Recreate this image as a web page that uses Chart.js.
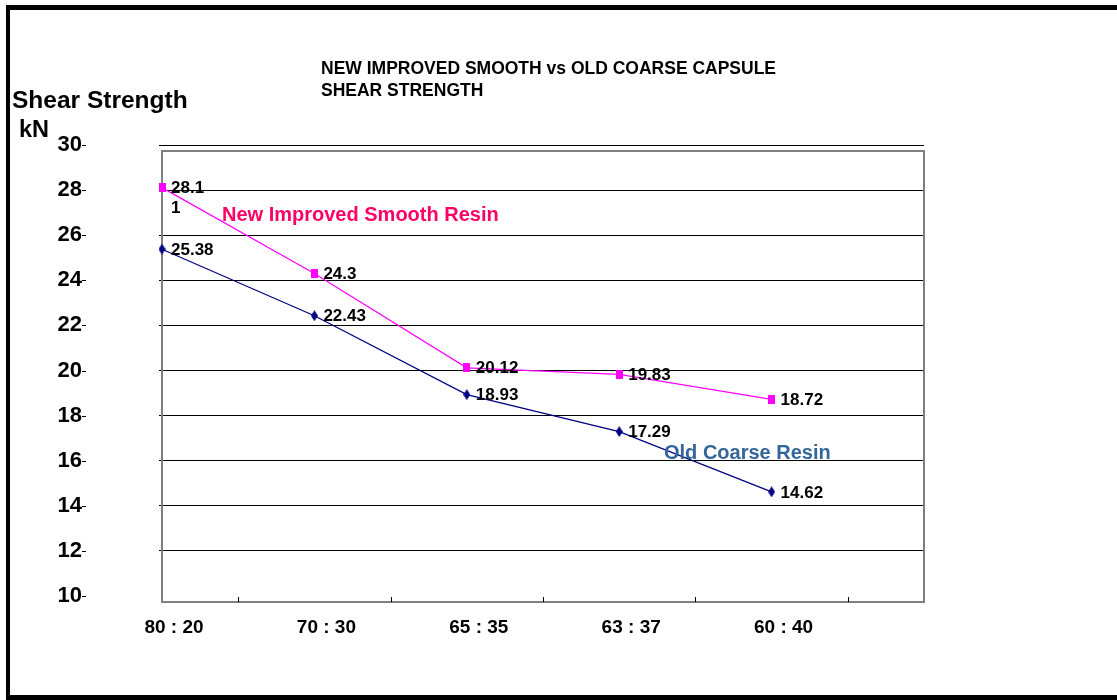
<!DOCTYPE html>
<html>
<head>
<meta charset="utf-8">
<title>Shear Strength</title>
<script src="https://cdn.jsdelivr.net/npm/chart.js@4.4.1/dist/chart.umd.min.js"></script>
<style>
    body { margin: 0; background: #fff; overflow: hidden; }
    #wrap { width: 1117px; height: 700px; }
</style>
</head>
<body>
<div id="wrap"><canvas id="shearChart" width="1117" height="700"></canvas></div>
<script>
// data
const ratios = ['80 : 20', '70 : 30', '65 : 35', '63 : 37', '60 : 40'];
const newSmooth = [28.11, 24.3, 20.12, 19.83, 18.72];
const oldCoarse = [25.38, 22.43, 18.93, 17.29, 14.62];
const yTicks = [10, 12, 14, 16, 18, 20, 22, 24, 26, 28, 30];
const titleLines = ['NEW IMPROVED SMOOTH vs OLD COARSE CAPSULE', 'SHEAR STRENGTH'];

const FONT = '"Liberation Sans", Arial, sans-serif';

// points sit on category index 0..4, axis runs on to 5
function toPoints(values) {
    return values.map(function(v, i) { return { x: i, y: v }; });
}

// little marker images (square for new resin, tall diamond for old)
function makeMarker(kind, color) {
    const c = document.createElement('canvas');
    // size first - resizing a canvas resets its context state
    c.width = 7;
    c.height = kind === 'square' ? 9 : 11;
    const g = c.getContext('2d');
    g.fillStyle = color;
    if (kind === 'square') {
        g.fillRect(0, 0, 7, 9);
    } else {
        g.beginPath();
        g.moveTo(3.5, 0); g.lineTo(7, 5.5); g.lineTo(3.5, 11); g.lineTo(0, 5.5);
        g.closePath();
        g.fill();
    }
    return c;
}

const decorPlugin = {
    id: 'decor',
    beforeDraw(chart) {
        const ctx = chart.ctx;
        ctx.save();
        ctx.fillStyle = '#fff';
        ctx.fillRect(0, 0, chart.width, chart.height);
        // outer black frame (right side runs off the picture)
        ctx.fillStyle = '#000';
        ctx.fillRect(6, 5, chart.width, 5);
        ctx.fillRect(6, 5, 4, 695);
        ctx.fillRect(6, 695, chart.width, 5);
        ctx.restore();
    },
    beforeDatasetsDraw(chart) {
        const ctx = chart.ctx;
        const area = chart.chartArea;
        const xs = chart.scales.x;
        ctx.save();
        // plot frame (sits a few px lower than the gridlines, like the original)
        ctx.strokeStyle = '#808080';
        ctx.lineWidth = 2;
        ctx.strokeRect(area.left, area.top + 6, area.right - area.left, area.bottom - area.top);

        // x tick marks between categories
        ctx.strokeStyle = '#000';
        ctx.lineWidth = 1;
        for (let i = 0; i < ratios.length; i++) {
            const px = Math.round(xs.getPixelForValue(i + 0.5)) + 0.5;
            ctx.beginPath();
            ctx.moveTo(px, area.bottom + 6);
            ctx.lineTo(px, area.bottom + 1);
            ctx.stroke();
        }
        ctx.restore();
    },
    afterDatasetsDraw(chart) {
        const ctx = chart.ctx;
        const ys = chart.scales.y;
        ctx.save();

        // small dashes after the y labels
        ctx.strokeStyle = '#000';
        ctx.lineWidth = 1;
        yTicks.forEach(function(v) {
            const py = Math.round(ys.getPixelForValue(v)) + 0.5;
            ctx.beginPath();
            ctx.moveTo(82, py);
            ctx.lineTo(86, py);
            ctx.stroke();
        });

        // value labels
        ctx.fillStyle = '#000';
        ctx.font = 'bold 17px ' + FONT;
        ctx.textAlign = 'left';
        ctx.textBaseline = 'middle';
        chart.data.datasets.forEach(function(ds, di) {
            const meta = chart.getDatasetMeta(di);
            meta.data.forEach(function(pt, j) {
                const txt = String(ds.data[j].y);
                if (ds.wrapFirst && j === 0) {
                    ctx.fillText(txt.slice(0, 4), pt.x + 9, pt.y + 1);
                    ctx.fillText(txt.slice(4), pt.x + 9, pt.y + 21);
                } else {
                    ctx.fillText(txt, pt.x + 9, pt.y + 1);
                }
            });
        });

        // title
        ctx.font = 'bold 17.5px ' + FONT;
        ctx.fillText(titleLines[0], 321, 69);
        ctx.fillText(titleLines[1], 321, 91);

        // y axis name
        ctx.font = 'bold 24.5px ' + FONT;
        ctx.fillText('Shear Strength', 12, 101);
        ctx.font = 'bold 23.5px ' + FONT;
        ctx.fillText('kN', 19, 131);

        // series names
        ctx.font = 'bold 20px ' + FONT;
        ctx.fillStyle = '#ff0066';
        ctx.fillText('New Improved Smooth Resin', 222, 215);
        ctx.fillStyle = '#336699';
        ctx.fillText('Old Coarse Resin', 664, 453);

        ctx.restore();
    }
};

const ctx = document.getElementById('shearChart').getContext('2d');

new Chart(ctx, {
    type: 'line',
    data: {
        datasets: [{
            label: 'New Improved Smooth Resin',
            data: toPoints(newSmooth),
            wrapFirst: true,
            clip: false,
            borderColor: '#ff00ff',
            borderWidth: 1.2,
            pointStyle: makeMarker('square', '#ff00ff'),
            tension: 0
        }, {
            label: 'Old Coarse Resin',
            data: toPoints(oldCoarse),
            clip: false,
            borderColor: '#000080',
            borderWidth: 1.2,
            pointStyle: makeMarker('diamond', '#000080'),
            tension: 0
        }]
    },
    options: {
        responsive: false,
        animation: false,
        layout: {
            padding: { left: 0, right: 193, top: 145, bottom: 0 }
        },
        plugins: {
            legend: { display: false },
            tooltip: { enabled: false }
        },
        scales: {
            x: {
                type: 'linear',
                min: 0,
                max: 5,
                afterBuildTicks: function(scale) {
                    scale.ticks = ratios.map(function(r, i) { return { value: i }; });
                },
                afterFit: function(scale) { scale.height = 104; },
                ticks: {
                    callback: function(v) { return ratios[v]; },
                    labelOffset: 12,
                    padding: 20,
                    color: '#000',
                    font: { family: FONT, size: 19, weight: 'bold' },
                    maxRotation: 0
                },
                grid: { drawOnChartArea: false, drawTicks: false },
                border: { display: false }
            },
            y: {
                min: 10,
                max: 30,
                afterBuildTicks: function(scale) {
                    scale.ticks = yTicks.map(function(v) { return { value: v }; });
                },
                afterFit: function(scale) { scale.width = 162; },
                ticks: {
                    padding: 77,
                    color: '#000',
                    font: { family: FONT, size: 22, weight: 'bold' }
                },
                grid: {
                    color: function(c) { return c.tick && c.tick.value === 10 ? 'rgba(0,0,0,0)' : '#000'; },
                    lineWidth: 1,
                    tickLength: 3
                },
                border: { display: false }
            }
        }
    },
    plugins: [decorPlugin]
});
</script>
</body>
</html>
